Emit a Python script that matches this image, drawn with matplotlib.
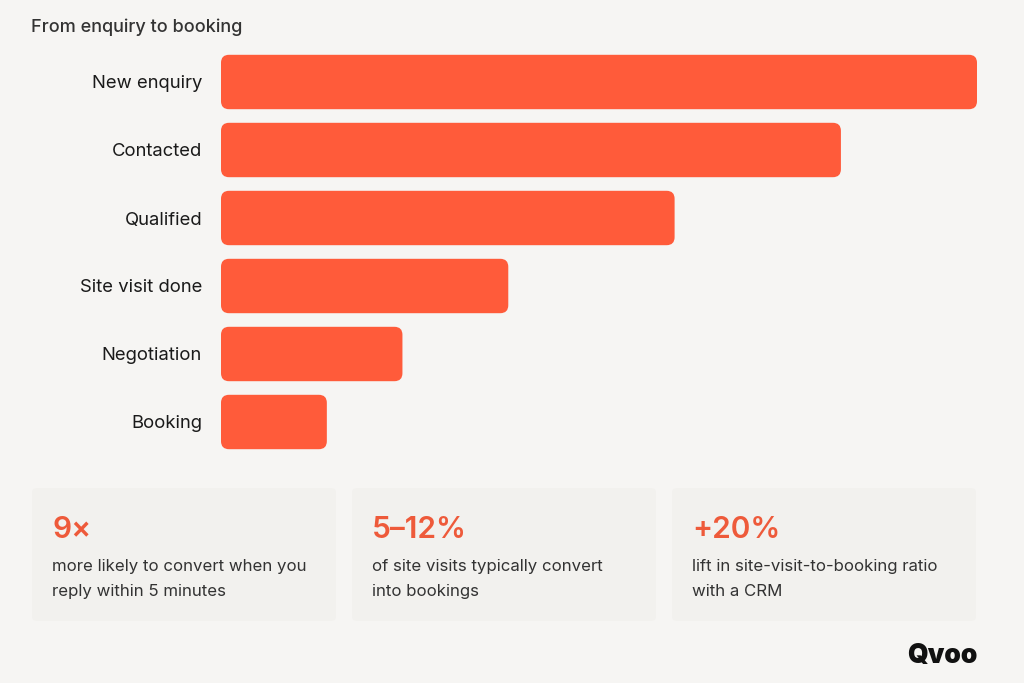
import matplotlib
matplotlib.use("Agg")
import matplotlib.pyplot as plt
from matplotlib.patches import FancyBboxPatch

stages = ["New enquiry", "Contacted", "Qualified", "Site visit done", "Negotiation", "Booking"]
values = [100, 82, 60, 38, 24, 14]
stat_values = ["9×", "5–12%", "+20%"]
stat_texts = ["more likely to convert when you\nreply within 5 minutes",
              "of site visits typically convert\ninto bookings",
              "lift in site-visit-to-booking ratio\nwith a CRM"]
title = "From enquiry to booking"

W, H = 1024, 683
BG = "#f6f5f3"
CARD = "#f2f1ee"
BAR = "#ff5b3a"
ACC = "#ee5a3a"
TXT = "#333333"
plt.rcParams['font.family'] = ['Inter', 'DejaVu Sans']

fig = plt.figure(figsize=(W/100, H/100), dpi=100, facecolor=BG)

def fx(px): return px / W
def fy(py): return 1 - py / H

# bar axes
ax = fig.add_axes([fx(221), fy(456), fx(977) - fx(221), (456 - 48) / H])
ax.set_facecolor("none")
ax.set_xlim(0, 100)
ax.set_ylim(len(stages) - 0.5, -0.5)
ax.axis("off")
bars = ax.barh(range(len(stages)), values, height=0.8, color=BAR)
xpx = 756 / 100.0
ypx = 68.0
rad_px = 8
for b in bars:
    x, y, w, h = b.get_x(), b.get_y(), b.get_width(), b.get_height()
    b.set_visible(False)
    p = FancyBboxPatch((x, y), w, h,
                       boxstyle=f"round,pad=0,rounding_size={rad_px / xpx}",
                       mutation_aspect=xpx / ypx,
                       facecolor=BAR, edgecolor="none")
    ax.add_patch(p)
for i, s in enumerate(stages):
    ax.text(-19 / xpx, i, s, ha="right", va="center_baseline", fontsize=13.3, color="#1a1a1a")

fig.text(fx(31), fy(25), title, ha="left", va="center_baseline", fontsize=13, color=TXT, fontweight="medium")

# cards
card_x = [32, 352, 672]
card_w = 304
for cx, sv, st in zip(card_x, stat_values, stat_texts):
    fig.patches.append(FancyBboxPatch((fx(cx), fy(621)), fx(card_w), (621 - 488) / H,
                                      boxstyle="round,pad=0,rounding_size=0.006",
                                      transform=fig.transFigure, facecolor=CARD,
                                      edgecolor="none", zorder=0))
    fig.text(fx(cx + 20), fy(527), sv, ha="left", va="center_baseline", fontsize=21.5,
             color=ACC, fontweight="semibold")
    fig.text(fx(cx + 20), fy(579), st, ha="left", va="center", fontsize=12.1,
             color=TXT, linespacing=1.85)

fig.text(fx(977), fy(653), "Qvoo", ha="right", va="center_baseline", fontsize=19,
         color="#111111", fontweight="black")

fig.savefig("out.png", dpi=100, facecolor=BG)
